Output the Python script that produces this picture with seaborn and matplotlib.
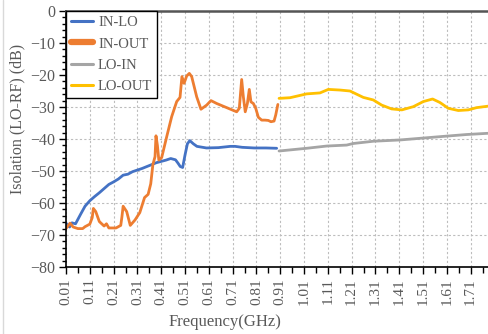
import matplotlib
matplotlib.use("Agg")
import matplotlib.pyplot as plt
import seaborn as sns
import numpy as np
import pandas as pd
from matplotlib.lines import Line2D
from matplotlib.ticker import MultipleLocator

# ---------------- data ----------------
series_names = ["IN-LO", "IN-OUT", "LO-IN", "LO-OUT"]
series_colors = ["#4472C4", "#ED7D31", "#A5A5A5", "#FFC000"]

in_lo_freq = [0.01, 0.025, 0.035, 0.05, 0.07, 0.09, 0.11, 0.13, 0.15, 0.17,
              0.19, 0.21, 0.23, 0.25, 0.27, 0.29, 0.31, 0.33, 0.35, 0.37,
              0.39, 0.41, 0.43, 0.45, 0.47, 0.48, 0.49, 0.50, 0.51, 0.52,
              0.53, 0.545, 0.56, 0.60, 0.65, 0.70, 0.72, 0.75, 0.80, 0.85, 0.895]
in_lo_db = [-66.3, -67.5, -66.2, -66.5, -63.7, -61.0, -59.3, -58.0, -56.8, -55.5,
            -54.2, -53.4, -52.5, -51.3, -51.0, -50.2, -49.7, -49.2, -48.6, -48.0,
            -47.4, -47.0, -46.6, -46.1, -46.5, -47.5, -48.6, -48.9, -45.0, -41.5,
            -40.5, -41.5, -42.3, -42.8, -42.7, -42.3, -42.3, -42.6, -42.8, -42.8, -42.9]

in_out_freq = [0.01, 0.027, 0.04, 0.06, 0.08, 0.09, 0.11, 0.12, 0.125, 0.135,
               0.15, 0.17, 0.18, 0.19, 0.22, 0.24, 0.245, 0.25, 0.265, 0.28,
               0.30, 0.32, 0.34, 0.355, 0.366, 0.375, 0.384, 0.388, 0.394, 0.40,
               0.412, 0.433, 0.454, 0.475, 0.489, 0.497, 0.506, 0.517, 0.528, 0.538,
               0.559, 0.577, 0.601, 0.619, 0.643, 0.685, 0.727, 0.738, 0.748, 0.755,
               0.763, 0.772, 0.78, 0.787, 0.797, 0.807, 0.818, 0.832, 0.846, 0.86,
               0.871, 0.884, 0.891, 0.90]
in_out_db = [-68.0, -66.3, -67.5, -68.0, -68.0, -67.4, -66.6, -64.6, -61.7, -62.7,
             -65.8, -67.2, -66.5, -67.8, -67.8, -67.0, -64.3, -61.0, -62.7, -67.0,
             -65.3, -63.0, -58.3, -57.3, -54.0, -48.0, -45.5, -39.0, -42.0, -46.6,
             -45.8, -39.3, -33.0, -28.3, -27.0, -20.5, -22.6, -20.3, -19.5, -20.5,
             -26.8, -30.7, -29.4, -28.0, -28.9, -30.2, -31.5, -30.4, -21.4, -26.8,
             -31.5, -28.9, -24.5, -28.4, -28.9, -30.4, -33.2, -34.1, -34.1, -34.2,
             -34.6, -34.4, -32.5, -29.2]

lo_in_freq = [0.905, 1.021, 1.105, 1.189, 1.217, 1.301, 1.413, 1.511, 1.609, 1.693, 1.787]
lo_in_db = [-43.75, -42.9, -42.2, -41.9, -41.4, -40.7, -40.3, -39.7, -39.1, -38.6, -38.2]

lo_out_freq = [0.905, 0.951, 1.021, 1.077, 1.112, 1.161, 1.203, 1.259, 1.301, 1.336,
               1.378, 1.421, 1.469, 1.511, 1.55, 1.581, 1.616, 1.658, 1.70, 1.735, 1.787]
lo_out_db = [-27.3, -27.1, -25.9, -25.6, -24.5, -24.7, -25.0, -27.0, -27.8, -29.4,
             -30.6, -30.9, -29.9, -28.3, -27.5, -28.6, -30.4, -31.1, -30.9, -30.2, -29.7]

x_tick_values = [0.01, 0.11, 0.21, 0.31, 0.41, 0.51, 0.61, 0.71, 0.81,
                 0.91, 1.01, 1.11, 1.21, 1.31, 1.41, 1.51, 1.61, 1.71]
x_tick_labels = [f"{v:.2f}" for v in x_tick_values]
y_tick_values = [-80, -70, -60, -50, -40, -30, -20, -10, 0]

# ---------------- build long table ----------------
frames = []
for name, f, d in zip(series_names,
                      [in_lo_freq, in_out_freq, lo_in_freq, lo_out_freq],
                      [in_lo_db, in_out_db, lo_in_db, lo_out_db]):
    frames.append(pd.DataFrame({"freq": f, "db": d, "series": name}))
df = pd.concat(frames, ignore_index=True)

# ---------------- style ----------------
sns.set_style("ticks")
plt.rcParams['font.family'] = ['Liberation Serif', 'DejaVu Serif']
text_color = "#595959"

fig = plt.figure(figsize=(4.89, 3.34), dpi=100)
ax = fig.add_axes([66 / 489, 67 / 334, (489 - 66) / 489, (267 - 11) / 334])

sns.lineplot(data=df, x="freq", y="db", hue="series", hue_order=series_names,
             palette=dict(zip(series_names, series_colors)), estimator=None,
             sort=False, units="series", linewidth=2.0, legend=False, ax=ax)

ax.set_xlim(0.01, 1.787)
ax.set_ylim(-80, 0)

ax.set_xticks(x_tick_values)
ax.set_xticklabels(x_tick_labels, rotation=90)
ax.set_xticks(np.arange(0.06, 1.79, 0.1), minor=True)
ax.set_yticks(y_tick_values)
ax.yaxis.set_minor_locator(MultipleLocator(2))

ax.tick_params(axis="x", which="major", direction="out", length=5, width=1,
               color="black", labelcolor=text_color, labelsize=11, pad=3)
ax.tick_params(axis="x", which="minor", direction="out", length=4, width=1, color="black")
ax.tick_params(axis="y", which="major", direction="out", length=5, width=1,
               color="black", labelcolor=text_color, labelsize=11.5, pad=3)
ax.tick_params(axis="y", which="minor", direction="out", length=3, width=1, color="black")

ax.grid(True, which="major", linestyle=(0, (2, 2)), color="#bdbdbd", linewidth=0.8)
ax.set_axisbelow(True)

ax.spines["right"].set_visible(False)
ax.spines["top"].set_color("#555555")
ax.spines["top"].set_linewidth(1.8)
ax.spines["left"].set_color("black")
ax.spines["bottom"].set_color("black")
ax.spines["left"].set_linewidth(1.2)
ax.spines["bottom"].set_linewidth(1.2)

ax.set_xlabel("Frequency(GHz)", color=text_color, fontsize=12)
ax.set_ylabel("Isolation (LO-RF) (dB)", color=text_color, fontsize=11.5)
ax.xaxis.set_label_coords(0.376, -0.182)
ax.yaxis.set_label_coords(-0.097, 0.578)

handles = []
for name, c in zip(series_names, series_colors):
    lw = 4.5 if name == "IN-OUT" else 2.2
    handles.append(Line2D([], [], color=c, lw=lw))
leg = ax.legend(handles, series_names, loc="upper left", bbox_to_anchor=(0, 1),
                borderaxespad=0, frameon=True, fancybox=False, framealpha=1,
                edgecolor="black", fontsize=10.5, labelcolor=text_color,
                handlelength=1.5, handletextpad=0.35, labelspacing=0.55,
                borderpad=0.35)
leg.get_frame().set_linewidth(1.0)

fig.add_artist(Line2D([3.5 / 489, 3.5 / 489], [0, 1], color="#d9d9d9", lw=1,
                      transform=fig.transFigure))

fig.savefig("out.png", dpi=100)
